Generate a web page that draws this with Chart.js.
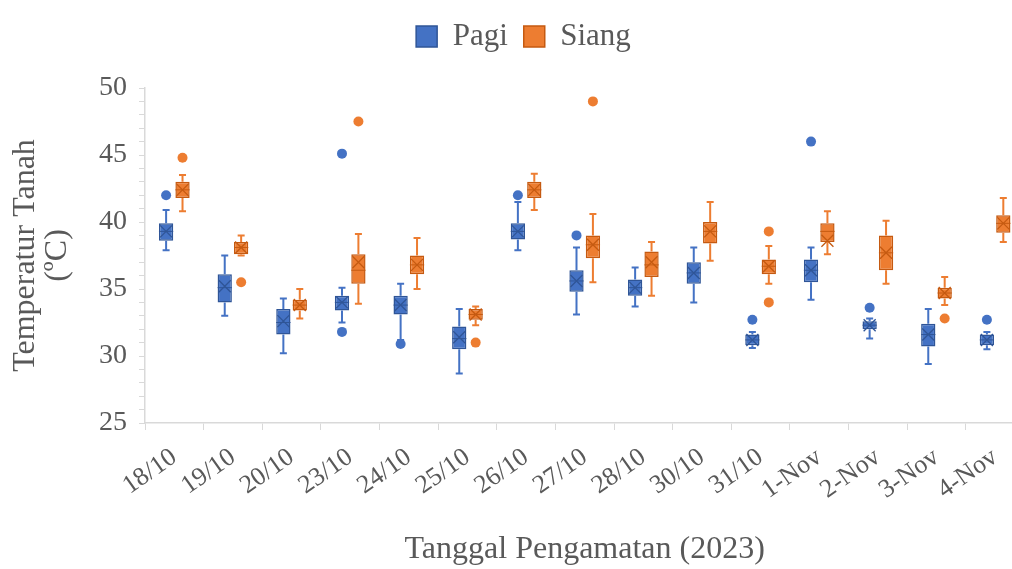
<!DOCTYPE html>
<html>
<head>
<meta charset="utf-8">
<script src="https://cdn.jsdelivr.net/npm/chart.js@4.4.1/dist/chart.umd.min.js"></script>
<style>
  html, body { margin: 0; padding: 0; background: #fff; overflow: hidden; }
  #wrap { width: 1012px; height: 569px; overflow: hidden; }
</style>
</head>
<body>
<!-- the Excel plot runs a little past the right edge, so the canvas is wider and clipped -->
<div id="wrap"><canvas id="chart" width="1025" height="569"></canvas></div>
<script>
// tanggal pengamatan
const labels = ['18/10', '19/10', '20/10', '23/10', '24/10', '25/10', '26/10', '27/10',
                '28/10', '30/10', '31/10', '1-Nov', '2-Nov', '3-Nov', '4-Nov'];

// Pagi
const pagiMin  = [37.9, 33.0, 30.2, 32.5, 31.2, 28.7, 37.9, 33.1, 33.7, 34.0, 30.6, 34.2, 31.3, 29.4, 30.5];
const pagiQ1   = [38.6, 34.0, 31.6, 33.4, 33.1, 30.5, 38.7, 34.8, 34.5, 35.4, 30.8, 35.5, 32.0, 30.7, 30.8];
const pagiMed  = [39.3, 35.1, 32.5, 34.0, 33.8, 31.3, 39.3, 35.6, 35.1, 36.2, 31.2, 36.4, 32.3, 31.6, 31.2];
const pagiMean = [39.3, 35.2, 32.6, 34.0, 33.8, 31.4, 39.3, 35.6, 35.1, 36.2, 31.2, 36.4, 32.3, 31.6, 31.2];
const pagiQ3   = [39.9, 36.1, 33.5, 34.5, 34.5, 32.2, 39.9, 36.4, 35.7, 37.0, 31.6, 37.2, 32.6, 32.4, 31.6];
const pagiMax  = [40.9, 37.5, 34.3, 35.1, 35.4, 33.5, 41.5, 38.1, 36.6, 38.1, 31.8, 38.1, 32.8, 33.5, 31.8];
const pagiOut  = [[42.0], [], [], [45.1, 31.8], [30.9], [], [42.0], [39.0], [], [], [32.7], [46.0], [33.6], [], [32.7]];

// Siang
const siangMin  = [40.8, 37.5, 32.8, 33.9, 35.0, 32.3, 40.9, 35.5, 34.5, 37.1, 35.4, 37.6, 35.4, 33.8, 38.5];
const siangQ1   = [41.8, 37.6, 33.4, 35.4, 36.1, 32.7, 41.8, 37.3, 35.9, 38.4, 36.1, 38.5, 36.4, 34.3, 39.2];
const siangMed  = [42.4, 38.1, 33.8, 36.4, 36.8, 33.1, 42.4, 38.3, 36.8, 39.3, 36.7, 39.3, 37.7, 34.7, 39.9];
const siangMean = [42.4, 38.1, 33.8, 37.0, 36.8, 33.1, 42.4, 38.3, 37.0, 39.3, 36.7, 38.6, 37.7, 34.7, 39.9];
const siangQ3   = [43.0, 38.5, 34.2, 37.6, 37.5, 33.5, 43.0, 39.0, 37.8, 40.0, 37.2, 39.9, 39.0, 35.1, 40.5];
const siangMax  = [43.5, 39.0, 35.0, 39.1, 38.8, 33.7, 43.6, 40.6, 38.5, 41.5, 38.2, 40.8, 40.1, 35.9, 41.8];
const siangOut  = [[44.8], [35.5], [], [47.5], [], [31.0], [], [49.0], [], [], [39.3, 34.0], [], [], [32.8], []];

const BLUE = '#4472C4', BLUE_DARK = '#2F5597';
const ORANGE = '#ED7D31', ORANGE_DARK = '#C55A11';
const FONT = "'Liberation Serif', 'Times New Roman', serif";
const GREY_TEXT = '#595959';

const stats = [
  { min: pagiMin, med: pagiMed, mean: pagiMean, max: pagiMax, out: pagiOut, color: BLUE, dark: BLUE_DARK },
  { min: siangMin, med: siangMed, mean: siangMean, max: siangMax, out: siangOut, color: ORANGE, dark: ORANGE_DARK }
];

// whiskers, median, mean X and outliers on top of the floating bars
const boxWhisker = {
  id: 'boxWhisker',
  afterDatasetsDraw(chart) {
    const ctx = chart.ctx;
    const y = chart.scales.y;
    stats.forEach((s, d) => {
      const meta = chart.getDatasetMeta(d);
      meta.data.forEach((bar, i) => {
        const x = bar.x;
        const half = bar.width / 2;
        const yMin = y.getPixelForValue(s.min[i]);
        const yMax = y.getPixelForValue(s.max[i]);
        const top = Math.min(bar.y, bar.base);
        const bottom = Math.max(bar.y, bar.base);
        ctx.save();
        ctx.strokeStyle = s.color;
        ctx.lineWidth = 2;
        ctx.beginPath();
        ctx.moveTo(x, top); ctx.lineTo(x, yMax);
        ctx.moveTo(x, bottom); ctx.lineTo(x, yMin);
        ctx.moveTo(x - 3.5, yMax); ctx.lineTo(x + 3.5, yMax);
        ctx.moveTo(x - 3.5, yMin); ctx.lineTo(x + 3.5, yMin);
        ctx.stroke();

        // median
        const yMed = y.getPixelForValue(s.med[i]);
        ctx.strokeStyle = s.dark;
        ctx.lineWidth = 1;
        ctx.beginPath();
        ctx.moveTo(x - half, yMed); ctx.lineTo(x + half, yMed);
        ctx.stroke();

        // mean X
        const yMean = y.getPixelForValue(s.mean[i]);
        const r = Math.min(half - 1, 6);
        ctx.strokeStyle = s.dark;
        ctx.lineWidth = 1.3;
        ctx.beginPath();
        ctx.moveTo(x - r, yMean - r); ctx.lineTo(x + r, yMean + r);
        ctx.moveTo(x + r, yMean - r); ctx.lineTo(x - r, yMean + r);
        ctx.stroke();

        // outliers
        ctx.fillStyle = s.color;
        s.out[i].forEach(v => {
          ctx.beginPath();
          ctx.arc(x, y.getPixelForValue(v), 5, 0, Math.PI * 2);
          ctx.fill();
        });
        ctx.restore();
      });
    });
  }
};

// extra room under the legend and a small nudge to the right, like the Excel original
const legendSpace = {
  id: 'legendSpace',
  beforeLayout(chart) {
    const lg = chart.legend;
    if (lg && !lg._spaced) {
      const fit = lg.fit;
      lg.fit = function () { fit.call(this); this.height = 83; };
      lg._spaced = true;
    }
  },
  afterLayout(chart) {
    const lg = chart.legend;
    if (lg) { lg.left += 11; lg.right += 11; }
  }
};

new Chart(document.getElementById('chart'), {
  type: 'bar',
  data: {
    labels: labels,
    datasets: [
      {
        label: 'Pagi',
        data: pagiQ1.map((q, i) => [q, pagiQ3[i]]),
        backgroundColor: BLUE,
        borderColor: BLUE_DARK,
        borderWidth: 1.5,
        borderSkipped: false
      },
      {
        label: 'Siang',
        data: siangQ1.map((q, i) => [q, siangQ3[i]]),
        backgroundColor: ORANGE,
        borderColor: ORANGE_DARK,
        borderWidth: 1.5,
        borderSkipped: false
      }
    ]
  },
  options: {
    responsive: false,
    animation: false,
    categoryPercentage: 0.56,
    barPercentage: 0.87,
    layout: { padding: { top: 5, right: 0, left: 0, bottom: 0 } },
    plugins: {
      legend: {
        position: 'top',
        labels: {
          boxWidth: 21,
          boxHeight: 21,
          padding: 16,
          color: GREY_TEXT,
          font: { family: FONT, size: 31 }
        }
      },
      tooltip: { enabled: false }
    },
    scales: {
      x: {
        grid: { drawOnChartArea: false, tickLength: 7, tickColor: '#d9d9d9' },
        border: { color: '#d9d9d9', width: 1.5 },
        ticks: {
          color: GREY_TEXT,
          font: { family: FONT, size: 26 },
          maxRotation: 35,
          minRotation: 35,
          autoSkip: false,
          padding: 12
        },
        title: {
          display: true,
          text: 'Tanggal Pengamatan (2023)',
          color: GREY_TEXT,
          font: { family: FONT, size: 32 },
          padding: { top: 0, bottom: 0 }
        },
        afterFit: s => { s.height = 146; }
      },
      y: {
        min: 25,
        max: 50,
        grid: { drawOnChartArea: false, tickLength: 6, tickColor: '#d9d9d9' },
        border: { color: '#d9d9d9', width: 1.5 },
        ticks: {
          stepSize: 1,
          autoSkip: false,
          color: GREY_TEXT,
          font: { family: FONT, size: 28 },
          padding: 12,
          callback: v => (v % 5 === 0 ? v : '')
        },
        title: {
          display: true,
          text: ['Temperatur Tanah', '(\u00BAC)'],
          color: GREY_TEXT,
          font: { family: FONT, size: 32, lineHeight: 1.0 },
          padding: { top: 10, bottom: 0 }
        },
        afterFit: s => { s.width = 145; }
      }
    }
  },
  plugins: [boxWhisker, legendSpace]
});
</script>
</body>
</html>
